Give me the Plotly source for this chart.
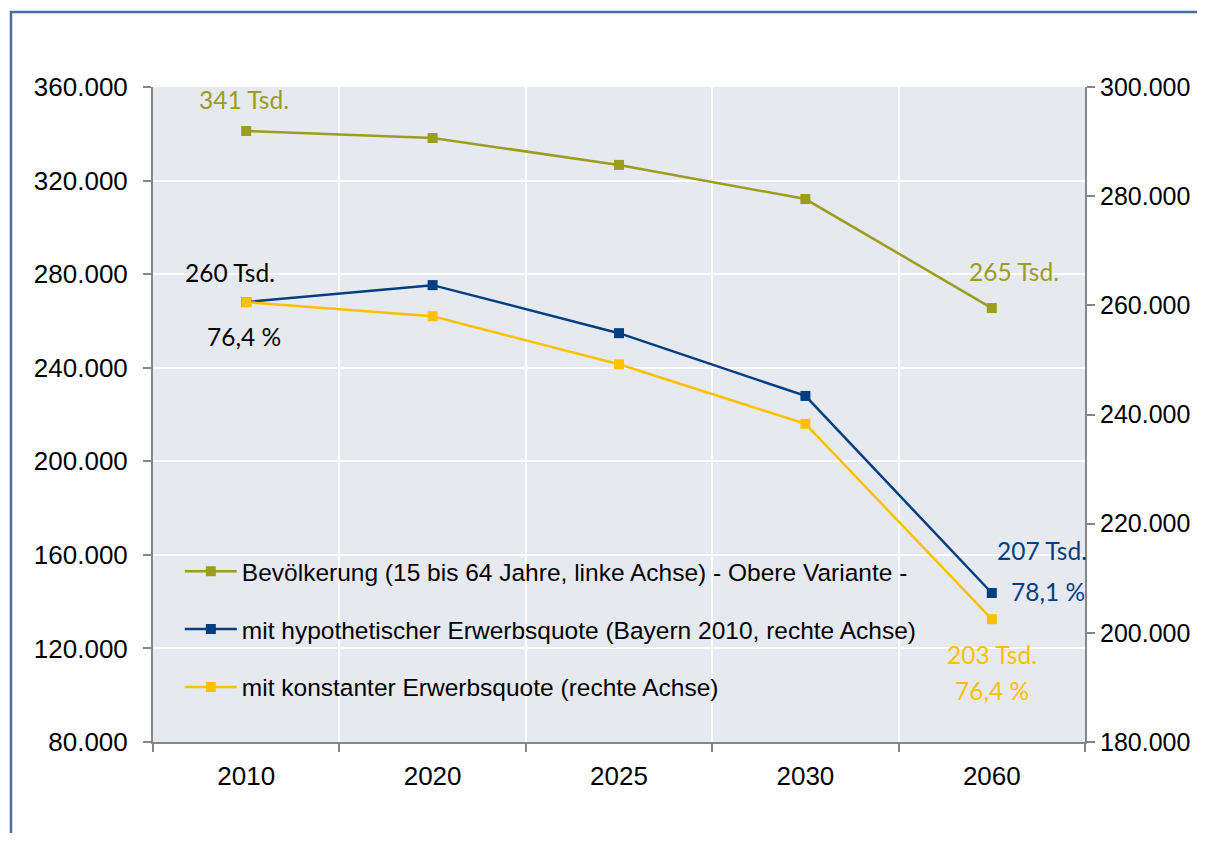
import plotly.graph_objects as go

years = ["2010", "2020", "2025", "2030", "2060"]
bevoelkerung = [341200, 338200, 326700, 312100, 265500]
hypothetisch = [260600, 263700, 254900, 243400, 207300]
konstant = [260600, 258000, 249200, 238300, 202500]

names = [
    "Bevölkerung (15 bis 64 Jahre, linke Achse) - Obere Variante -",
    "mit hypothetischer Erwerbsquote (Bayern 2010, rechte Achse)",
    "mit konstanter Erwerbsquote (rechte Achse)",
]
colors = ["#9C9C1E", "#003F7F", "#FFC000"]

left_ticks = [80000, 120000, 160000, 200000, 240000, 280000, 320000, 360000]
right_ticks = [180000, 200000, 220000, 240000, 260000, 280000, 300000]

# data labels: (text, category index, series, color, xshift, yshift)
labels = [
    ("341 Tsd.", 0, "bev", "#9C9C1E", -2, 31),
    ("265 Tsd.", 4, "bev", "#9C9C1E", 22, 37),
    ("260 Tsd.", 0, "hyp", "#000000", -16, 30),
    ("76,4 %", 0, "hyp", "#000000", -2, -34),
    ("207 Tsd.", 4, "hyp", "#003F7F", 50, 42),
    ("78,1 %", 4, "hyp", "#003F7F", 56, 1),
    ("203 Tsd.", 4, "kon", "#FFC000", 0, -35),
    ("76,4 %", 4, "kon", "#FFC000", 0, -71),
]
series = {"bev": (bevoelkerung, "y"), "hyp": (hypothetisch, "y2"), "kon": (konstant, "y2")}

fig = go.Figure()
for i, (vals, yax) in enumerate([(bevoelkerung, "y"), (hypothetisch, "y2"), (konstant, "y2")]):
    fig.add_trace(go.Scatter(
        x=years, y=vals, name=names[i], yaxis=yax, mode="lines+markers",
        line=dict(color=colors[i], width=2.5),
        marker=dict(symbol="square", size=10, color=colors[i]),
        legendgroup=f"g{i}",
    ))

for text, ci, s, col, xs, ys in labels:
    vals, yax = series[s]
    fig.add_annotation(
        x=ci, y=vals[ci], xref="x", yref=yax, text=text, showarrow=False,
        xshift=xs, yshift=ys, font=dict(family="Lato, Carlito, sans-serif", size=24.5, color=col),
    )

# outer chart border (plot area at 153..1085 x 87..742 in page px)
fig.add_shape(type="rect", xref="paper", yref="paper",
              x0=(11 - 153) / 932, x1=(1225 - 153) / 932,
              y0=(742 - 860) / 655, y1=(742 - 12) / 655,
              line=dict(color="#4A6BA5", width=2.5), fillcolor="rgba(0,0,0,0)", layer="below")

axis_font = dict(family="Liberation Sans, Arial, sans-serif", size=26, color="#000000")
right_font = dict(family="Liberation Sans, Arial, sans-serif", size=25, color="#000000")
fig.update_layout(
    width=1189, height=825,
    margin=dict(l=145, r=112, t=79, b=91, autoexpand=False),
    paper_bgcolor="#FFFFFF", plot_bgcolor="#E6E9F0",
    separators=",.",
    showlegend=True,
    legend=dict(x=0.0288, y=0.295, xanchor="left", yanchor="top",
                bgcolor="rgba(0,0,0,0)", font=dict(family="Liberation Sans, Arial, sans-serif", size=24.5, color="#000000"),
                tracegroupgap=23, itemwidth=52),
    xaxis=dict(type="category", range=[-0.5, 4.5], tickson="boundaries",
               showgrid=True, gridcolor="#FFFFFF", gridwidth=2,
               showline=True, linecolor="#868686", linewidth=2,
               ticks="outside", ticklen=8, tickcolor="#868686", tickwidth=2,
               tickfont=axis_font, ticklabelstandoff=10, zeroline=False, automargin=False),
    yaxis=dict(range=[80000, 360000], tickvals=left_ticks, tickformat=",d",
               showgrid=True, gridcolor="#FFFFFF", gridwidth=2,
               showline=True, linecolor="#868686", linewidth=2,
               ticks="outside", ticklen=8, tickcolor="#868686", tickwidth=2,
               tickfont=axis_font, ticklabelstandoff=10, zeroline=False, automargin=False),
    yaxis2=dict(range=[180000, 300000], tickvals=right_ticks, tickformat=",d",
                overlaying="y", side="right", showgrid=False,
                showline=True, linecolor="#868686", linewidth=2,
                ticks="outside", ticklen=8, tickcolor="#868686", tickwidth=2,
                tickfont=right_font, ticklabelstandoff=0, zeroline=False, automargin=False),
)

fig.write_html("out.html")
